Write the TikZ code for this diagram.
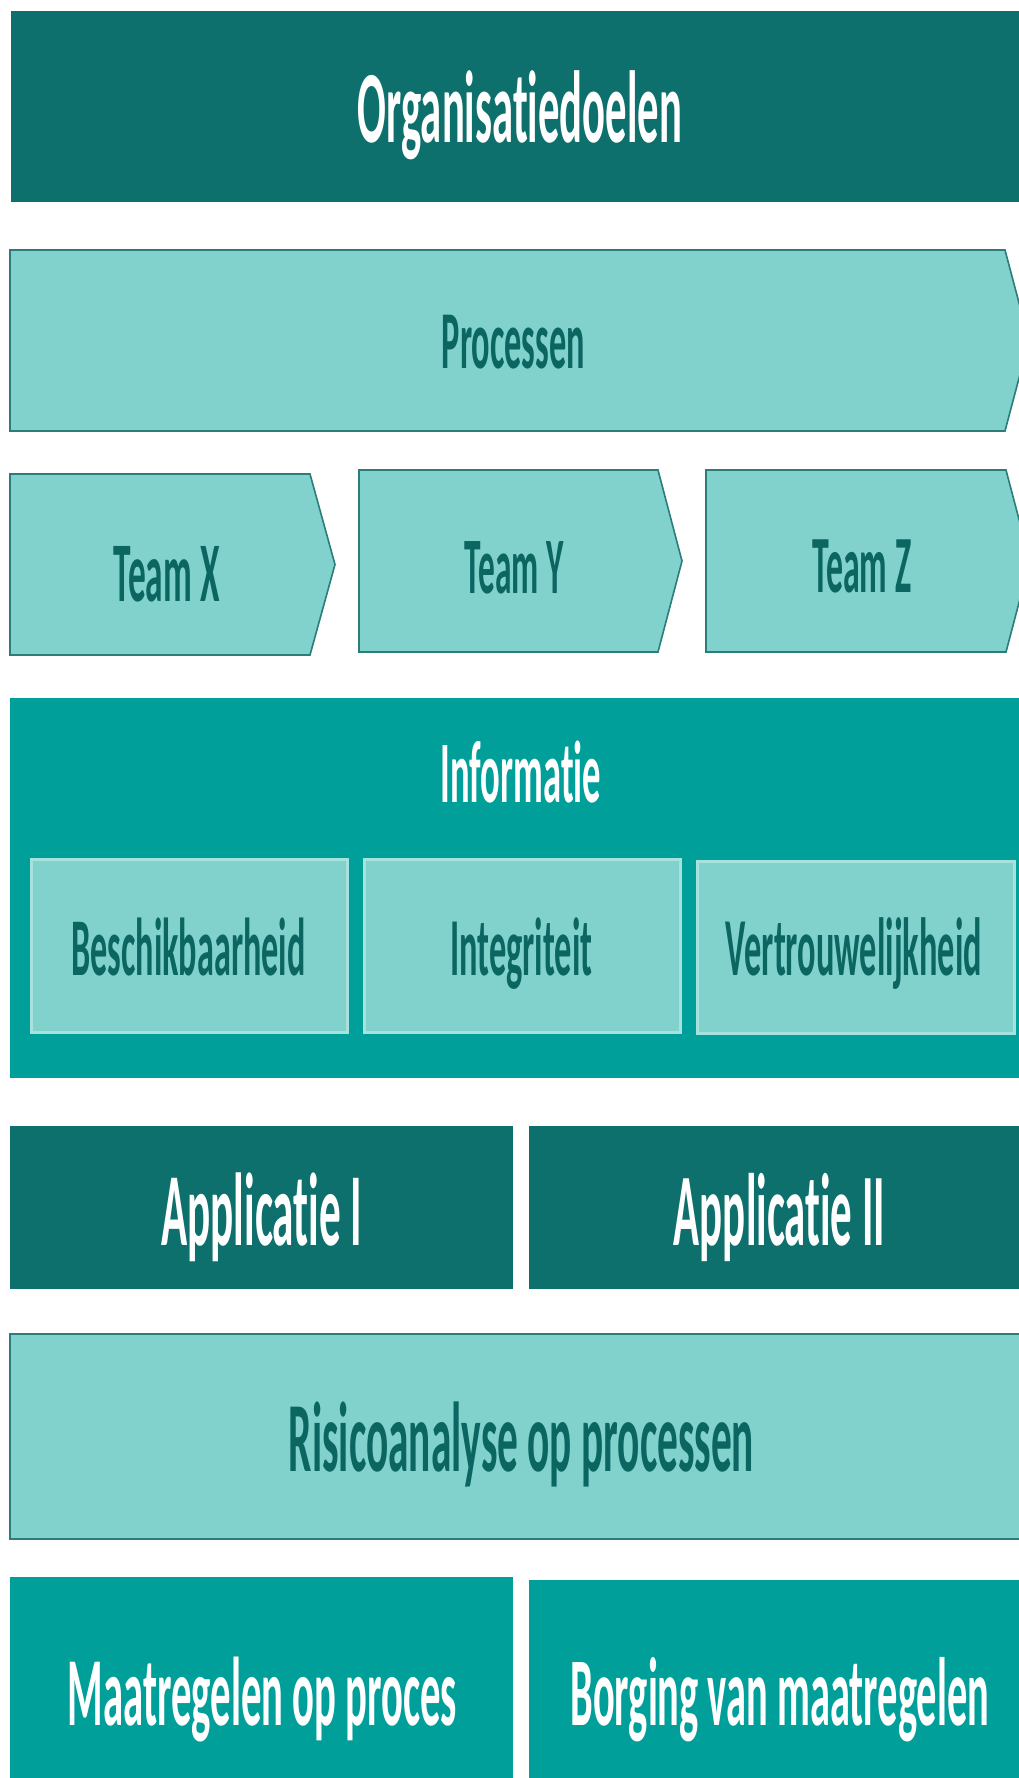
\documentclass[tikz,border=0pt]{standalone}
\usepackage{fontspec}
\setmainfont{Carlito}[Ligatures=NoCommon]
\usepackage{graphicx}

\definecolor{tealdark}{HTML}{0E706C}
\definecolor{tealmid}{HTML}{009F99}
\definecolor{teallight}{HTML}{81D1CD}
\definecolor{tealedge}{HTML}{2A7D79}
\definecolor{tealhi}{HTML}{A6E2DE}
\definecolor{tealtext}{HTML}{0B6662}

% text set to a given width, drawn tall and narrow
\newcommand{\fitw}[2]{\resizebox{#1pt}{!}{\scalebox{1}[2.4]{#2}}}

\begin{document}
\begin{tikzpicture}[x=1pt,y=-1pt,
  darkbox/.style={fill=tealdark},
  midbox/.style={fill=tealmid},
  lightbox/.style={fill=teallight, draw=tealedge, line width=1.6pt, line join=miter},
  subbox/.style={fill=teallight, draw=tealhi, line width=3pt},
  lbl/.style={inner sep=0pt, anchor=base, font=\bfseries},
  wt/.style={lbl, text=white},
  dt/.style={lbl, text=tealtext}]
\useasboundingbox (0,0) rectangle (1019,1778);
\clip (0,0) rectangle (1019,1778);
\fill[white] (0,0) rectangle (1019,1778);

% goals banner
\path[darkbox] (11,11) rectangle (1030,202);
\node[wt] (org) at (520,142) {\fitw{324}{Organisatiedoelen}};

% process chevron
\path[lightbox] (10,250) -- (1005,250) -- (1029,340.5) -- (1005,431) -- (10,431) -- cycle;
\node[dt] (proc) at (513.5,368) {\fitw{143}{Processen}};

% team chevrons
\path[lightbox] (10,474) -- (310,474) -- (335,564.5) -- (310,655) -- (10,655) -- cycle;
\path[lightbox] (359,470) -- (658,470) -- (682,561) -- (658,652) -- (359,652) -- cycle;
\path[lightbox] (706,470) -- (1006,470) -- (1030,561) -- (1006,652) -- (706,652) -- cycle;
\node[dt] (tx) at (166.7,601) {\fitw{106}{Team X}};
\node[dt] (ty) at (514.3,593) {\fitw{99}{Team Y}};
\node[dt] (tz) at (861.8,592.6) {\fitw{99}{Team Z}};

% information block with its three aspects
\path[midbox] (10,698) rectangle (1030,1078);
\node[wt] (info) at (520.8,802) {\fitw{160.5}{Informatie}};
\path[subbox] (31,859) rectangle (347,1032);
\path[subbox] (364,859) rectangle (680,1032);
\path[subbox] (697,861) rectangle (1014,1033);
\node[dt] (besch) at (188.5,975) {\fitw{234}{Beschikbaarheid}};
\node[dt] (integ) at (521.3,975) {\fitw{142}{Integriteit}};
\node[dt] (vertr) at (854,975) {\fitw{256}{Vertrouwelijkheid}};

% applications
\path[darkbox] (10,1126) rectangle (513,1289);
\path[darkbox] (529,1126) rectangle (1030,1289);
\node[wt] (app1) at (261.8,1245) {\fitw{201}{Applicatie I}};
\node[wt] (app2) at (779.5,1245) {\fitw{211}{Applicatie II}};

% risk analysis
\path[lightbox] (10,1334) rectangle (1032,1539);
\node[dt] (risk) at (521.5,1471) {\fitw{465}{Risicoanalyse op processen}};

% measures
\path[midbox] (10,1577) rectangle (513,1790);
\path[midbox] (529,1580) rectangle (1030,1790);
\node[wt] (maat) at (262.5,1725) {\fitw{389}{Maatregelen op proces}};
\node[wt] (borg) at (779.8,1725) {\fitw{418.5}{Borging van maatregelen}};
\end{tikzpicture}
\end{document}
